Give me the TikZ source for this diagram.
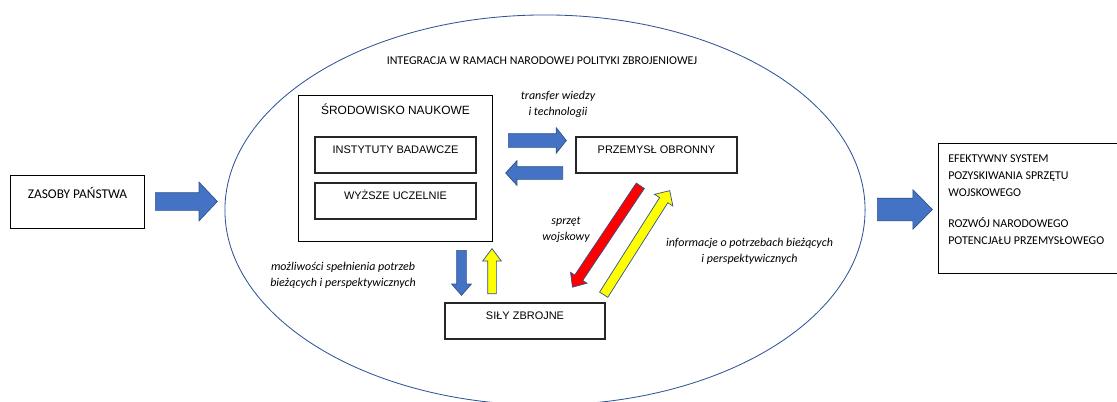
\documentclass[tikz,border=0pt]{standalone}
\usepackage{fontspec}
\setmainfont{Carlito}
\newfontfamily\arialfont{Liberation Sans}
\usepackage{xcolor}
\usetikzlibrary{arrows.meta, positioning, shapes.arrows}
\definecolor{arrowblue}{RGB}{68,114,196}
\definecolor{edgeblue}{RGB}{47,82,143}
\definecolor{ovalblue}{RGB}{47,85,151}
\definecolor{signalred}{RGB}{255,0,0}
\definecolor{signalyellow}{RGB}{255,255,0}

\begin{document}
\begin{tikzpicture}[x=0.025cm, y=-0.025cm,
  box/.style={draw=black!85, line width=0.8pt, inner sep=0pt, text height=6pt, text depth=8.2pt, font=\arialfont\fontsize{7.8}{9}\selectfont},
  outerbox/.style={draw=black, line width=0.7pt, inner sep=0pt},
  note/.style={align=center, inner sep=0pt, font=\itshape\fontsize{8.5}{11.5}\selectfont},
  blockarrow/.style={single arrow, draw=edgeblue, line width=0.5pt, inner xsep=0pt, anchor=tail},
  bluearrow/.style={blockarrow, fill=arrowblue}]
\useasboundingbox (0,0) rectangle (1117,401);

% Integration oval
\draw[ovalblue, line width=0.6pt] (545,210) ellipse [x radius=8cm, y radius=4.875cm];
\node[inner sep=0pt, font=\fontsize{8.5}{10}\selectfont] (integracja) at (542,61) {INTEGRACJA W RAMACH NARODOWEJ POLITYKI ZBROJENIOWEJ};

% Boxes
\node[box, draw=black, line width=0.7pt, minimum width=33.25mm, minimum height=13.25mm, text depth=10.5pt, font=\fontsize{9.5}{11}\selectfont] (zasoby) at (77.5,201.5) {ZASOBY PAŃSTWA};
\node[outerbox, minimum width=48.25mm, minimum height=36.25mm] (srodowisko) at (395.5,168.5) {};
\node[inner sep=0pt, font=\arialfont\fontsize{8.5}{10}\selectfont] (srodowiskoTxt) at (395.5,109) {ŚRODOWISKO NAUKOWE};
\node[box, minimum width=40.25mm, minimum height=9mm] (instytuty) at (395.5,155) {INSTYTUTY BADAWCZE};
\node[box, minimum width=40.25mm, minimum height=9mm] (uczelnie) at (395.5,201) {WYŻSZE UCZELNIE};
\node[box, minimum width=40.25mm, minimum height=9mm] (przemysl) at (656.5,155) {PRZEMYSŁ OBRONNY};
\node[box, minimum width=40mm, minimum height=9mm] (sily) at (525,321) {SIŁY ZBROJNE};
\node[outerbox, minimum width=47.75mm, minimum height=32.25mm] (efekt) at (1034.5,208.5) {};
\node[anchor=north west, inner sep=0pt, align=left, font=\fontsize{8.5}{12.4}\selectfont] (efektTxt) at (948,154)
  {EFEKTYWNY SYSTEM\\POZYSKIWANIA SPRZĘTU\\WOJSKOWEGO\\[9pt]ROZWÓJ NARODOWEGO\\POTENCJAŁU PRZEMYSŁOWEGO};

% Block arrows
\node[bluearrow, minimum height=15.5mm, inner ysep=2.125mm, single arrow head extend=2.625mm, single arrow tip angle=93] (wejscie) at (155,201.5) {};
\node[bluearrow, minimum height=13.75mm, inner ysep=2.75mm, single arrow head extend=2.125mm, single arrow tip angle=91] (wyjscie) at (877,209.5) {};
\node[bluearrow, minimum height=14.5mm, inner ysep=1.625mm, single arrow head extend=1.5mm, single arrow tip angle=103] (transfer) at (508,140.5) {};
\node[bluearrow, rotate=180, minimum height=14.25mm, inner ysep=1.5mm, single arrow head extend=1.5mm, single arrow tip angle=95] (zwrot) at (563,173) {};
\node[bluearrow, rotate=-90, minimum height=11.25mm, inner ysep=1.125mm, single arrow head extend=1.25mm, single arrow tip angle=82] (mozliwosci) at (461.5,250) {};
\node[blockarrow, fill=signalyellow, rotate=90, minimum height=11.25mm, inner ysep=1mm, single arrow head extend=1.25mm, single arrow tip angle=74] (potrzeby) at (492,294) {};
\node[blockarrow, fill=signalred, rotate=-123.8, minimum height=30.5mm, inner ysep=1.125mm, single arrow head extend=1.25mm, single arrow tip angle=82] (sprzet) at (640.5,185.5) {};
\node[blockarrow, fill=signalyellow, rotate=57.6, minimum height=30.8mm, inner ysep=1.125mm, single arrow head extend=1.5mm, single arrow tip angle=88] (informacje) at (603.5,295) {};

% Labels
\node[note] (transferTxt) at (558,104) {transfer wiedzy\\i technologii};
\node[note] (sprzetTxt) at (566,229.5) {sprzęt\\wojskowy};
\node[note] (informacjeTxt) at (749.5,251) {informacje o potrzebach bieżących\\i perspektywicznych};
\node[note] (mozliwosciTxt) at (343,275) {możliwości spełnienia potrzeb\\bieżących i perspektywicznych};

\end{tikzpicture}
\end{document}
